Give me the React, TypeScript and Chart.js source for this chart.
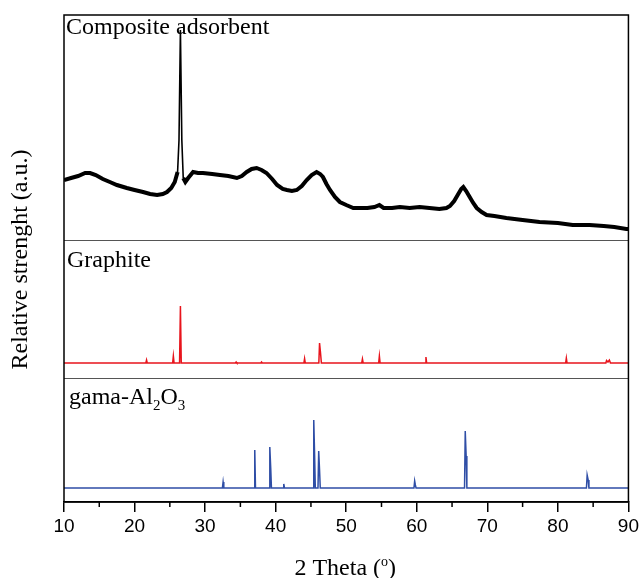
import React, { useEffect, useRef } from 'react';
import { Chart, registerables } from 'chart.js';

Chart.register(...registerables);

// Composite adsorbent XRD pattern (2θ in degrees, intensity a.u.)
const compositeTheta = [10, 11, 12, 13, 13.7, 14.5, 15.5, 16.5, 17.5, 18.9, 20, 21.2, 22.2, 23.2, 24, 24.6, 25.2, 25.7, 26.1, 26.3, 26.5, 26.7, 26.9, 27.2, 27.6, 28.3, 29, 29.7, 31, 32.1, 33.3, 34.5, 35.2, 35.9, 36.6, 37.3, 38, 38.7, 39.5, 40.2, 41, 41.6, 42.3, 43, 43.7, 44.4, 45.1, 45.8, 46.3, 46.7, 47.2, 47.7, 48.4, 49.1, 50, 51, 52, 53, 54, 54.7, 55.3, 56.5, 57.6, 59, 60.4, 61.8, 63.2, 64.2, 64.7, 65.3, 65.8, 66.3, 66.6, 67, 67.5, 68, 68.5, 69.2, 69.9, 71, 72.7, 75, 77.4, 80, 82.1, 84.5, 86.5, 88, 89.7, 90];
const compositeIntensity = [240, 248, 256, 268, 268, 260, 244, 232, 220, 208, 200, 192, 184, 180, 184, 192, 208, 232, 272, 400, 840, 400, 248, 232, 248, 272, 268, 268, 264, 260, 256, 248, 256, 272, 284, 288, 280, 268, 244, 220, 204, 200, 196, 200, 216, 240, 260, 272, 264, 252, 224, 200, 172, 152, 140, 128, 128, 128, 132, 140, 128, 128, 132, 128, 132, 128, 124, 128, 136, 156, 180, 204, 212, 196, 172, 148, 128, 112, 100, 96, 88, 80, 72, 68, 60, 60, 56, 52, 44, 44];

// Graphite reference pattern
const graphiteTheta = [10, 21.6, 21.7, 21.8, 25.4, 25.5, 25.6, 26.38, 26.5, 26.62, 34.3, 34.4, 34.5, 37.9, 38.0, 38.1, 44.0, 44.1, 44.2, 46.12, 46.22, 46.36, 46.48, 52.2, 52.3, 52.4, 54.6, 54.7, 54.8, 61.2, 61.3, 61.4, 81.1, 81.2, 81.3, 86.8, 86.9, 87.1, 87.3, 87.45, 90];
const graphiteIntensity = [0, 0, 30, 0, 0, 70, 0, 0, 570, 0, 0, 10, 0, 0, 10, 0, 0, 45, 0, 0, 200, 100, 0, 0, 40, 0, 0, 70, 0, 0, 60, 0, 0, 50, 0, 0, 25, 10, 30, 0, 0];

// gamma-Al2O3 reference pattern
const aluminaTheta = [10, 32.45, 32.55, 32.65, 36.95, 37.04, 37.14, 39.07, 39.17, 39.3, 39.4, 41.05, 41.15, 41.25, 45.3, 45.4, 45.52, 45.62, 46.0, 46.1, 46.22, 46.32, 59.6, 59.7, 59.8, 59.9, 66.77, 66.87, 67.0, 67.1, 84.05, 84.15, 84.3, 84.4, 90];
const aluminaIntensity = [0, 0, 60, 0, 0, 380, 0, 0, 410, 200, 0, 0, 40, 0, 0, 680, 330, 0, 0, 370, 180, 0, 0, 70, 30, 0, 0, 570, 320, 0, 0, 130, 80, 0, 0];

const xTicks = [10, 20, 30, 40, 50, 60, 70, 80, 90];
const xMinorTicks = [15, 25, 35, 45, 55, 65, 75, 85];

const toPoints = (xs: number[], ys: number[]) => xs.map((x, i) => ({ x, y: ys[i] }));

const SERIF = '"Liberation Serif", "Times New Roman", serif';
const SANS = '"Liberation Sans", Arial, sans-serif';

function drawRich(ctx: CanvasRenderingContext2D, x: number, y: number, parts: { t: string; size: number; dy: number }[], align: 'left' | 'center') {
  let total = 0;
  const widths = parts.map((p) => {
    ctx.font = `${p.size}px ${SERIF}`;
    const w = ctx.measureText(p.t).width;
    total += w;
    return w;
  });
  let cx = align === 'center' ? x - total / 2 : x;
  ctx.textAlign = 'left';
  ctx.textBaseline = 'alphabetic';
  parts.forEach((p, i) => {
    ctx.font = `${p.size}px ${SERIF}`;
    ctx.fillText(p.t, cx, y + p.dy);
    cx += widths[i];
  });
}

const decorPlugin = {
  id: 'decor',
  afterDraw(chart: any) {
    const { ctx, chartArea: a, scales } = chart;
    ctx.save();
    // separators between panels
    ctx.strokeStyle = '#555';
    ctx.lineWidth = 1.2;
    [scales.yMid.top, scales.yBot.top].forEach((y: number) => {
      ctx.beginPath();
      ctx.moveTo(a.left, Math.round(y) + 0.5);
      ctx.lineTo(a.right, Math.round(y) + 0.5);
      ctx.stroke();
    });
    // outer frame
    ctx.strokeStyle = '#000';
    ctx.lineWidth = 1.5;
    ctx.strokeRect(a.left, a.top, a.right - a.left, a.bottom - a.top);
    // minor ticks
    const xs = scales.x;
    xMinorTicks.forEach((v) => {
      const px = xs.getPixelForValue(v);
      ctx.beginPath();
      ctx.moveTo(px, a.bottom);
      ctx.lineTo(px, a.bottom + 5);
      ctx.stroke();
    });
    ctx.fillStyle = '#000';
    // panel labels
    drawRich(ctx, a.left + 2, scales.yTop.top + 19, [{ t: 'Composite adsorbent', size: 24, dy: 0 }], 'left');
    drawRich(ctx, a.left + 3, scales.yMid.top + 27, [{ t: 'Graphite', size: 24, dy: 0 }], 'left');
    drawRich(ctx, a.left + 5, scales.yBot.top + 26, [
      { t: 'gama-Al', size: 24, dy: 0 },
      { t: '2', size: 15, dy: 6 },
      { t: 'O', size: 24, dy: 0 },
      { t: '3', size: 15, dy: 6 },
    ], 'left');
    // x title
    drawRich(ctx, (a.left + a.right) / 2 - 1, 575, [
      { t: '2 Theta (', size: 24, dy: 0 },
      { t: 'o', size: 14, dy: -9 },
      { t: ')', size: 24, dy: 0 },
    ], 'center');
    // y title
    ctx.translate(21, (a.top + a.bottom) / 2 + 1);
    ctx.rotate(-Math.PI / 2);
    ctx.font = `24px ${SERIF}`;
    ctx.textAlign = 'center';
    ctx.textBaseline = 'middle';
    ctx.fillText('Relative strenght (a.u.)', 0, 0);
    ctx.restore();
  },
};

const hiddenY = (min: number, max: number, weight: number) => ({
  type: 'linear' as const,
  position: 'left' as const,
  stack: 'panels',
  stackWeight: weight,
  min,
  max,
  grid: { display: false },
  border: { display: false },
  ticks: { display: false },
  afterFit: (s: any) => { s.width = 0; },
});

export default function App() {
  const ref = useRef<HTMLCanvasElement>(null);
  useEffect(() => {
    if (!ref.current) return;
    const chart = new Chart(ref.current, {
      type: 'line',
      data: {
        datasets: [
          {
            label: 'Composite adsorbent',
            data: toPoints(compositeTheta, compositeIntensity),
            yAxisID: 'yTop',
            borderColor: '#000',
            borderWidth: 4,
            segment: {
              borderWidth: (c: any) => (c.p0.parsed.x >= 26.1 && c.p1.parsed.x <= 26.9 ? 1.6 : 4),
            },
            pointRadius: 0,
            tension: 0,
          },
          {
            label: 'Graphite',
            data: toPoints(graphiteTheta, graphiteIntensity),
            yAxisID: 'yMid',
            borderColor: '#e8141c',
            borderWidth: 1.5,
            pointRadius: 0,
            tension: 0,
          },
          {
            label: 'gama-Al2O3',
            data: toPoints(aluminaTheta, aluminaIntensity),
            yAxisID: 'yBot',
            borderColor: '#2f4ea6',
            borderWidth: 1.5,
            pointRadius: 0,
            tension: 0,
          },
        ],
      },
      options: {
        responsive: false,
        animation: false,
        events: [],
        layout: { padding: { left: 64, right: 13, top: 15, bottom: 0 } },
        plugins: { legend: { display: false }, tooltip: { enabled: false } },
        scales: {
          yBot: hiddenY(-140, 1100, 124),
          yMid: hiddenY(-150, 1230, 138),
          yTop: hiddenY(0, 900, 225),
          x: {
            type: 'linear',
            position: 'bottom',
            min: 10,
            max: 90,
            afterBuildTicks: (s: any) => { s.ticks = xTicks.map((v) => ({ value: v })); },
            ticks: { color: '#000', font: { family: SANS, size: 19 }, padding: 3 },
            grid: { drawOnChartArea: false, drawTicks: true, tickLength: 10, color: '#000', lineWidth: 1.5 },
            border: { display: true, color: '#000', width: 1.5 },
            afterFit: (s: any) => { s.height = 76; },
          },
        },
      } as any,
      plugins: [decorPlugin],
    });
    return () => chart.destroy();
  }, []);
  return (
    <div style={{ position: 'absolute', left: 0, top: 0, width: 642, height: 578, background: '#fff' }}>
      <canvas ref={ref} width={642} height={578} style={{ display: 'block' }} />
    </div>
  );
}
